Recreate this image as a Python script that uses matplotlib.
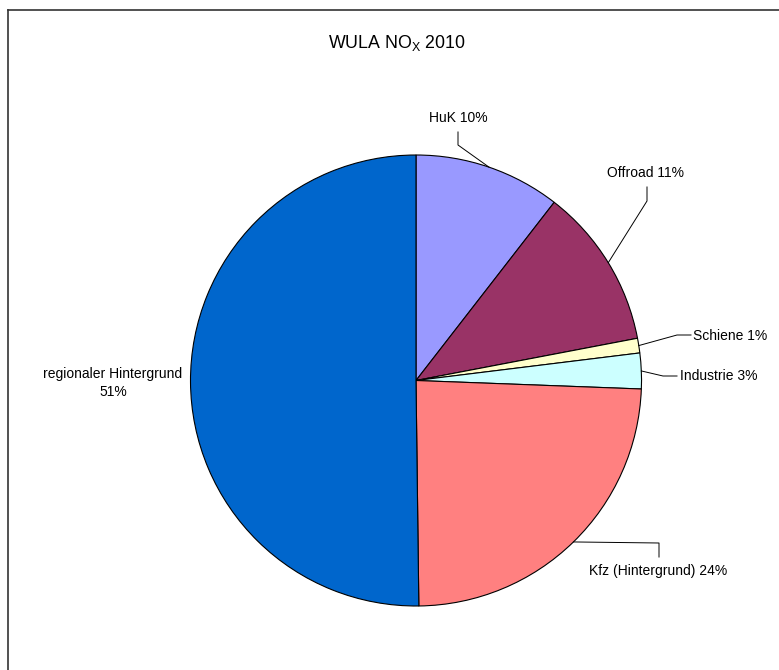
import numpy as np
import matplotlib
matplotlib.use("Agg")
import matplotlib.pyplot as plt

# ---- data ----
categories = ["HuK", "Offroad", "Schiene", "Industrie", "Kfz (Hintergrund)", "regionaler Hintergrund"]
values = [10.5, 11.5, 1.05, 2.55, 24.2, 50.2]
pct_labels = ["10%", "11%", "1%", "3%", "24%", "51%"]
colors = ["#9999FF", "#993366", "#FFFFCC", "#CCFFFF", "#FF8080", "#0066CC"]
title = r"WULA NO$_\mathrm{X}$ 2010"

plt.rcParams['font.family'] = ['Liberation Sans', 'DejaVu Sans']
plt.rcParams['mathtext.fontset'] = 'custom'
plt.rcParams['mathtext.rm'] = 'Liberation Sans'
plt.rcParams['mathtext.it'] = 'Liberation Sans:italic'

W, H = 779, 670
fig = plt.figure(figsize=(W / 100, H / 100), dpi=100)
ax = fig.add_axes([0, 0, 1, 1])

def P(x, y):
    return (x, H - y)

cx, cy = 416, 380.5
R = 225.5
wedges, _ = ax.pie(values, colors=colors, startangle=90, counterclock=False,
                   center=P(cx, cy), radius=R,
                   wedgeprops=dict(edgecolor="black", linewidth=0.8))
ax.set_xlim(0, W)
ax.set_ylim(0, H)
ax.set_aspect('equal', adjustable='box')
ax.axis('off')

# frame
ax.plot([8, 8], [H - 10, -5], color="#333333", lw=1.2, clip_on=False)
ax.plot([8, W + 5], [H - 10, H - 10], color="#333333", lw=1.2, clip_on=False)

# title
ax.text(*P(397, 43), title, ha="center", va="center", fontsize=12.8)

# label layout: (elbow points in px, text pos, ha)
layout = [
    ([(458, 145), (458, 132)], (458, 118), "center"),
    ([(647, 201), (647, 187)], (646, 173), "center"),
    ([(677, 335), (691, 335)], (693, 336), "left"),
    ([(663, 376), (677, 376)], (680, 376), "left"),
    ([(659, 543), (659, 557)], (658, 571), "center"),
    (None, (113, 383), "center"),
]

for w, cat, pl, (pts, tpos, ha) in zip(wedges, categories, pct_labels, layout):
    mid = np.deg2rad((w.theta1 + w.theta2) / 2)
    ex = w.center[0] + w.r * np.cos(mid)
    ey = w.center[1] + w.r * np.sin(mid)
    if pts is not None:
        xs = [ex] + [p[0] for p in pts]
        ys = [ey] + [H - p[1] for p in pts]
        ax.plot(xs, ys, color="black", lw=0.7)
        txt = f"{cat} {pl}"
        ax.text(*P(*tpos), txt, ha=ha, va="center", fontsize=10)
    else:
        ax.text(*P(*tpos), f"{cat}\n{pl}", ha=ha, va="center", fontsize=10,
                linespacing=1.35, multialignment="center")

fig.savefig("out.png", dpi=100)
